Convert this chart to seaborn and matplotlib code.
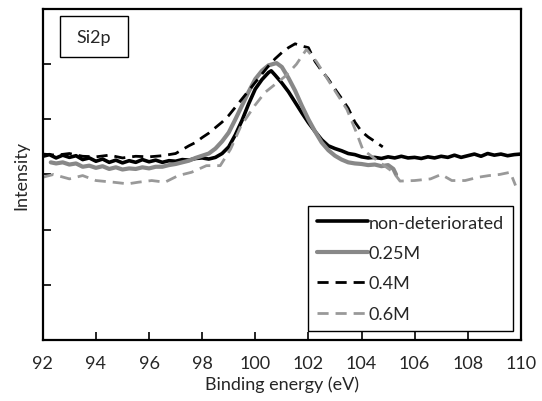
import numpy as np
import pandas as pd
import matplotlib
matplotlib.use('Agg')
import matplotlib.pyplot as plt
from matplotlib.patches import Rectangle
import seaborn as sns

# Si2p spectra
x_nd = [92.0, 92.25, 92.5, 92.75, 93.0, 93.25, 93.5, 93.75, 94.0, 94.25, 94.5, 94.75,
        95.0, 95.25, 95.5, 95.75, 96.0, 96.25, 96.5, 96.75, 97.0, 97.25, 97.5, 97.75,
        98.0, 98.25, 98.5, 98.75, 99.0, 99.25, 99.5, 99.75, 100.0, 100.25, 100.5, 100.6,
        100.75, 101.0, 101.25, 101.5, 101.75, 102.0, 102.25, 102.5, 102.75, 103.0, 103.25,
        103.5, 103.75, 104.0, 104.25, 104.5, 104.75, 105.0, 105.25, 105.5, 105.75, 106.0,
        106.25, 106.5, 106.75, 107.0, 107.25, 107.5, 107.75, 108.0, 108.25, 108.5, 108.75,
        109.0, 109.25, 109.5, 109.75, 110.0]
y_nd = [3.33, 3.36, 3.30, 3.35, 3.31, 3.34, 3.27, 3.30, 3.24, 3.28, 3.22, 3.26,
        3.21, 3.25, 3.22, 3.27, 3.23, 3.26, 3.22, 3.25, 3.24, 3.27, 3.26, 3.29,
        3.30, 3.28, 3.31, 3.38, 3.50, 3.72, 3.98, 4.28, 4.55, 4.72, 4.85, 4.88,
        4.80, 4.66, 4.50, 4.31, 4.12, 3.94, 3.78, 3.63, 3.52, 3.47, 3.43,
        3.38, 3.36, 3.32, 3.30, 3.31, 3.29, 3.32, 3.30, 3.33, 3.30, 3.31,
        3.29, 3.32, 3.30, 3.33, 3.31, 3.35, 3.31, 3.34, 3.37, 3.33, 3.38,
        3.35, 3.37, 3.34, 3.36, 3.37]

x_025 = [92.3, 92.5, 92.75, 93.0, 93.25, 93.5, 93.75, 94.0, 94.25, 94.5, 94.75, 95.0,
         95.25, 95.5, 95.75, 96.0, 96.25, 96.5, 96.75, 97.0, 97.25, 97.5, 97.75, 98.0,
         98.25, 98.5, 98.75, 99.0, 99.25, 99.5, 99.75, 100.0, 100.25, 100.5, 100.8, 101.0,
         101.25, 101.5, 101.75, 102.0, 102.25, 102.5, 102.75, 103.0, 103.25, 103.5, 103.75,
         104.0, 104.25, 104.5, 104.75, 105.0, 105.2, 105.3]
y_025 = [3.22, 3.20, 3.22, 3.18, 3.20, 3.14, 3.16, 3.12, 3.15, 3.10, 3.13, 3.09,
         3.11, 3.10, 3.13, 3.11, 3.14, 3.14, 3.17, 3.19, 3.22, 3.25, 3.30, 3.34,
         3.38, 3.47, 3.60, 3.76, 4.00, 4.25, 4.50, 4.73, 4.88, 4.98, 5.02, 4.95,
         4.75, 4.52, 4.25, 4.00, 3.78, 3.58, 3.44, 3.34, 3.27, 3.22, 3.20,
         3.19, 3.17, 3.18, 3.15, 3.17, 3.10, 3.00]

x_04 = [92.0, 92.5, 93.0, 93.5, 94.0, 94.5, 95.0, 95.5, 96.0, 96.5, 97.0, 97.25, 97.5,
        97.75, 98.0, 98.25, 98.5, 98.75, 99.0, 99.25, 99.5, 99.75, 100.0, 100.25, 100.5,
        100.75, 101.0, 101.25, 101.5, 101.75, 102.0, 102.25, 102.5, 102.75, 103.0, 103.25,
        103.5, 103.75, 104.0, 104.25, 104.5, 104.8]
y_04 = [3.37, 3.35, 3.38, 3.33, 3.32, 3.35, 3.30, 3.33, 3.32, 3.34, 3.38, 3.45, 3.52,
        3.58, 3.67, 3.75, 3.85, 3.95, 4.07, 4.22, 4.37, 4.52, 4.67, 4.82, 4.97,
        5.10, 5.21, 5.30, 5.37, 5.33, 5.30, 5.05, 4.88, 4.73, 4.55, 4.38,
        4.20, 3.95, 3.78, 3.68, 3.60, 3.50]

x_06 = [92.0, 92.4, 93.0, 93.5, 94.0, 94.65, 95.2, 95.6, 96.1, 96.6, 97.1, 97.6, 98.16,
        98.68, 99.07, 99.46, 99.98, 100.37, 100.76, 101.15, 101.55, 101.93, 102.3, 102.8,
        103.45, 103.8, 104.05, 104.6, 105.2, 105.45, 106.0, 106.6, 107.0, 107.4, 107.9,
        108.4, 108.8, 109.2, 109.6, 109.8]
y_06 = [2.95, 3.00, 2.92, 2.98, 2.89, 2.86, 2.83, 2.86, 2.89, 2.86, 2.98, 3.04, 3.16,
        3.16, 3.46, 3.88, 4.25, 4.49, 4.64, 4.79, 5.00, 5.27, 5.05, 4.67,
        4.18, 3.77, 3.45, 3.25, 3.04, 2.88, 2.89, 2.92, 3.00, 2.89, 2.89,
        2.95, 2.98, 3.00, 3.04, 2.80]

labels = ['non-deteriorated', '0.25M', '0.4M', '0.6M']
x_ticks = [92, 94, 96, 98, 100, 102, 104, 106, 108, 110]

sns.set_style('white')
plt.rcParams['font.family'] = ['Lato', 'DejaVu Sans']

fig = plt.figure(figsize=(5.42, 4.02), dpi=100)
ax = fig.add_axes([0.079, 0.152, 0.882, 0.823])

series = [
    (x_nd, y_nd, '#000000', '-', 2.6),
    (x_025, y_025, '#888888', '-', 3.0),
    (x_04, y_04, '#000000', (0, (4, 2.5)), 2.0),
    (x_06, y_06, '#999999', (0, (4, 2.5)), 2.0),
]
for (xs, ys, col, ls, lw), lab in zip(series, labels):
    df = pd.DataFrame({'x': xs, 'y': ys})
    sns.lineplot(data=df, x='x', y='y', ax=ax, color=col, linestyle=ls,
                 linewidth=lw, label=lab, sort=False)

ax.set_xlim(92, 110)
ax.set_ylim(0, 6)
ax.set_xticks(x_ticks)
ax.set_xticklabels([str(t) for t in x_ticks])
ax.set_yticks([1, 2, 3, 4, 5])
ax.set_yticklabels([])
ax.tick_params(axis='both', direction='in', length=6, width=1.2, color='black',
               labelsize=13, pad=11)
ax.tick_params(axis='y', left=True)
ax.tick_params(axis='x', bottom=True)
for sp in ax.spines.values():
    sp.set_color('black')
    sp.set_linewidth(1.6)

ax.set_xlabel('Binding energy (eV)', fontsize=13, labelpad=3)
ax.set_ylabel('Intensity', fontsize=13, labelpad=-1)

ax.add_patch(Rectangle((0.0356, 0.855), 0.142, 0.124, transform=ax.transAxes,
                       fill=False, edgecolor='black', linewidth=1.0))
ax.text(0.107, 0.917, 'Si2p', transform=ax.transAxes, ha='center', va='center',
        fontsize=13)

leg = ax.legend(loc='lower right', bbox_to_anchor=(0.983, 0.027), fontsize=13,
                frameon=True, fancybox=False, framealpha=1, edgecolor='black',
                handlelength=2.8, handletextpad=0.05, labelspacing=0.8,
                borderpad=0.5, borderaxespad=0)
leg.get_frame().set_linewidth(1.0)

fig.savefig('out.png', dpi=100)
